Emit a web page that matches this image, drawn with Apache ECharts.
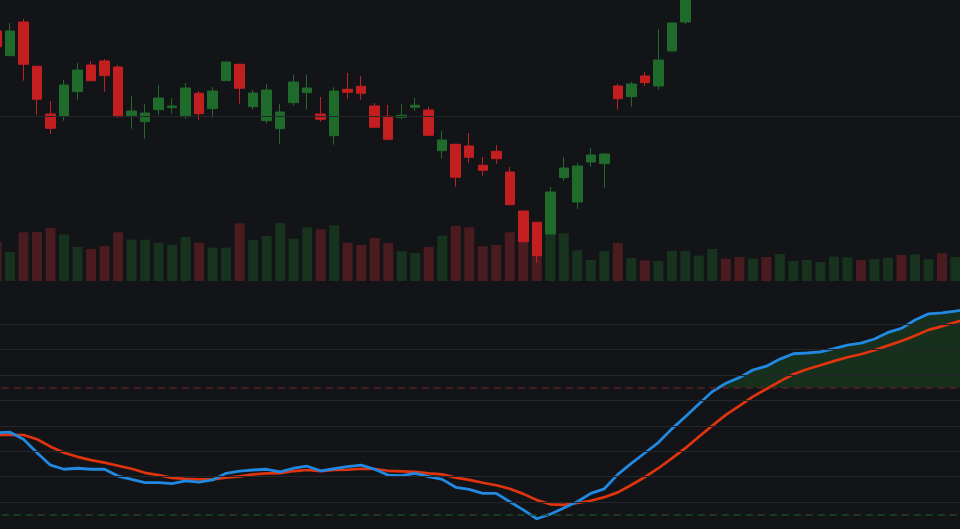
<!DOCTYPE html>
<html>
<head>
<meta charset="utf-8">
<title>K-line with oscillator</title>
<script src="https://cdn.jsdelivr.net/npm/echarts@6/dist/echarts.min.js"></script>
<style>
html, body { margin: 0; padding: 0; background: #131418; }
#main { width: 960px; height: 529px; }
</style>
</head>
<body>
<div id="main"></div>
<script>
// trading days shown on the category axis
const dates = [];
(function () {
    let d = new Date(2023, 2, 1);
    while (dates.length < 73) {
        const wd = d.getDay();
        if (wd !== 0 && wd !== 6) {
            dates.push(d.getFullYear() + '-' + (d.getMonth() + 1) + '-' + d.getDate());
        }
        d.setDate(d.getDate() + 1);
    }
})();

const opens = [121.25, 115.08, 123.5, 112.43, 100.5, 100.0, 106.08, 112.75, 113.75, 112.25,
    100.08, 98.58, 101.58, 102.08, 99.83, 105.68, 101.83, 108.83, 112.93, 102.33,
    98.83, 96.83, 103.33, 105.83, 100.5, 95.08, 106.68, 107.43, 102.5, 99.93,
    99.68, 102.18, 101.5, 91.33, 92.93, 92.5, 87.68, 91.18, 86.0, 76.25,
    73.43, 70.5, 84.58, 78.5, 88.5, 88.08, 107.5, 104.83, 110.0, 107.5,
    116.25, 123.5, 131.0, 137.5, 142.8, 140.6, 138.2, 143.5, 141.2, 146.0,
    149.4, 152.1, 155.0, 157.3, 160.1, 158.2, 161.7, 164.3, 162.0, 165.6,
    168.2, 166.1, 169.4];
const closes = [117.33, 121.25, 112.93, 104.18, 96.93, 107.75, 111.5, 108.83, 110.08, 99.83,
    101.25, 100.75, 104.5, 102.5, 107.0, 100.58, 106.25, 113.5, 106.93, 105.75,
    106.5, 101.0, 108.5, 107.0, 99.18, 106.25, 105.93, 105.68, 97.18, 94.18,
    100.18, 102.68, 95.18, 94.0, 84.68, 89.68, 86.43, 89.33, 77.83, 68.58,
    65.07, 81.0, 87.0, 87.5, 90.25, 90.5, 104.33, 108.0, 108.33, 114.0,
    123.25, 134.0, 137.5, 142.8, 140.6, 138.2, 143.5, 141.2, 146.0, 149.4,
    152.1, 155.0, 157.3, 160.1, 158.2, 161.7, 164.3, 162.0, 165.6, 168.2,
    166.1, 169.4, 171.8];
const lows = [116.5, 115.08, 108.83, 100.25, 95.5, 98.83, 104.08, 108.83, 106.08, 99.58,
    96.83, 94.33, 100.25, 100.58, 99.33, 99.08, 99.58, 108.83, 103.08, 101.58,
    98.08, 93.08, 102.58, 101.58, 98.58, 92.83, 104.33, 104.08, 97.18, 93.93,
    99.18, 101.25, 95.18, 89.33, 82.33, 88.33, 85.08, 88.08, 77.83, 68.43,
    63.33, 70.5, 83.83, 76.75, 87.33, 82.08, 101.58, 102.33, 107.5, 106.58,
    116.25, 123.0, 128.9, 136.0, 139.4, 136.9, 137.7, 139.8, 140.5, 145.2,
    148.3, 151.0, 153.8, 156.4, 156.9, 157.6, 160.5, 160.9, 161.3, 164.7,
    164.8, 165.5, 168.6];
const highs = [122.0, 123.25, 124.25, 112.43, 103.75, 109.0, 113.25, 113.75, 114.25, 112.75,
    105.0, 103.0, 107.75, 104.5, 108.25, 106.25, 107.25, 113.5, 112.93, 106.5,
    108.0, 103.0, 110.25, 110.25, 104.75, 107.18, 110.75, 110.0, 103.25, 102.75,
    103.0, 104.5, 102.25, 96.25, 92.93, 95.75, 89.75, 92.75, 87.25, 76.25,
    73.43, 82.25, 89.75, 88.25, 92.0, 90.75, 108.0, 108.5, 111.0, 121.75,
    123.25, 135.25, 138.6, 144.1, 144.6, 141.8, 144.9, 145.0, 147.3, 150.6,
    153.5, 156.2, 158.4, 161.5, 161.0, 162.8, 165.4, 165.1, 166.9, 169.3,
    169.0, 170.6, 172.9];
const volumes = [780000, 580000, 974000, 980000, 1060000, 934000, 680000, 640000, 700000, 974000,
    826000, 826000, 766000, 726000, 880000, 766000, 666000, 666000, 1154000, 820000,
    900000, 1160000, 846000, 1074000, 1034000, 1114000, 766000, 720000, 860000, 760000,
    594000, 560000, 680000, 906000, 1100000, 1074000, 694000, 720000, 974000, 900000,
    860000, 940000, 954000, 614000, 420000, 600000, 760000, 460000, 414000, 400000,
    600000, 600000, 506000, 640000, 446000, 480000, 446000, 480000, 540000, 400000,
    420000, 380000, 486000, 474000, 420000, 440000, 466000, 520000, 534000, 434000,
    554000, 480000, 500000];

// oscillator: fast (blue) and slow (red) lines
const kLine = [57.3, 57.5, 54.7, 49.4, 44.5, 42.9, 43.3, 42.9, 42.9, 40.2,
    38.9, 37.6, 37.6, 37.2, 38.3, 37.8, 38.7, 41.3, 42.2, 42.6,
    42.9, 41.9, 43.3, 44.1, 42.3, 43.1, 43.9, 44.5, 42.9, 40.6,
    40.4, 41.3, 40.0, 38.9, 35.8, 35.0, 33.4, 33.4, 30.1, 26.9,
    23.4, 25.2, 27.6, 30.1, 33.4, 35.2, 40.9, 45.2, 49.3, 53.4,
    58.8, 63.6, 68.6, 73.5, 76.8, 79.0, 82.0, 83.5, 86.3, 88.4,
    88.7, 89.1, 90.4, 91.8, 92.6, 94.2, 96.8, 98.4, 101.7, 104.1,
    104.5, 105.2, 106.0];
const dLine = [56.4, 56.5, 56.4, 54.7, 51.8, 49.4, 47.8, 46.5, 45.5, 44.3,
    43.1, 41.5, 40.6, 39.5, 39.1, 38.9, 38.9, 39.6, 40.1, 40.9,
    41.3, 41.4, 42.2, 42.6, 42.2, 42.6, 42.7, 43.1, 43.0, 42.3,
    42.1, 41.9, 41.3, 40.9, 39.6, 38.7, 37.6, 36.6, 35.2, 33.2,
    30.8, 29.1, 28.9, 29.6, 30.5, 31.9, 33.8, 36.7, 39.8, 43.3,
    47.2, 51.2, 55.7, 60.1, 64.3, 67.9, 71.5, 74.5, 77.5, 80.3,
    82.3, 83.9, 85.5, 87.0, 88.2, 89.8, 91.6, 93.4, 95.5, 97.8,
    99.2, 100.8, 102.3];

const priceGridLevels = [100];
const oscGridLevels = [30, 40, 50, 60, 70, 80, 90, 100];
const overBought = 75;
const overSold = 25;

const UP = '#1f6b2b';
const DOWN = '#c41f20';
const UP_VOL = '#17331e';
const DOWN_VOL = '#4a1b1f';
const GRID_LINE = '#25262b';

const candleData = opens.map((o, i) => [o, closes[i], lows[i], highs[i]]);
const volumeData = volumes.map((v, i) => ({
    value: v,
    itemStyle: { color: closes[i] >= opens[i] ? UP_VOL : DOWN_VOL }
}));

const hLine = (v, color, type) => ({ yAxis: v, lineStyle: { color: color, type: type, width: 1 } });

let chartOption = {
    backgroundColor: '#131418',
    animation: false,
    grid: [
        // the view is scrolled: first and last candles are cut by the canvas edge
        { left: -10.25, width: 986, top: 0, height: 281, outerBoundsMode: 'none', containLabel: false },
        { left: -10.25, width: 986, top: 298.91, height: 228.48, outerBoundsMode: 'none', containLabel: false }
    ],
    xAxis: [
        { type: 'category', gridIndex: 0, data: dates, show: false, boundaryGap: true },
        { type: 'category', gridIndex: 1, data: dates, show: false, boundaryGap: true }
    ],
    yAxis: [
        { type: 'value', gridIndex: 0, min: 58.75, max: 129, show: false },
        { type: 'value', gridIndex: 0, min: 0, max: 5620000, show: false },
        { type: 'value', gridIndex: 1, min: 20, max: 110, show: false }
    ],
    series: [
        {
            name: 'Volume',
            type: 'bar',
            xAxisIndex: 0,
            yAxisIndex: 1,
            barWidth: 10,
            data: volumeData
        },
        {
            name: 'Price',
            type: 'candlestick',
            xAxisIndex: 0,
            yAxisIndex: 0,
            barWidth: 10,
            itemStyle: {
                color: UP,
                color0: DOWN,
                borderColor: UP,
                borderColor0: DOWN,
                borderWidth: 1
            },
            data: candleData,
            markLine: {
                silent: true,
                symbol: ['none', 'none'],
                label: { show: false },
                data: priceGridLevels.map(v => hLine(v, GRID_LINE, 'solid'))
            }
        },
        {
            // base of the overbought fill, sits on the 75 level
            name: 'fillBase',
            type: 'line',
            xAxisIndex: 1,
            yAxisIndex: 2,
            stack: 'ob',
            symbol: 'none',
            lineStyle: { opacity: 0 },
            data: kLine.map(() => overBought),
            markLine: {
                silent: true,
                symbol: ['none', 'none'],
                label: { show: false },
                data: oscGridLevels.map(v => hLine(v, GRID_LINE, 'solid')).concat([
                    { yAxis: overBought, lineStyle: { color: '#5a1f23', type: [7, 5], width: 1.5 } },
                    { yAxis: overSold, lineStyle: { color: '#1d4a25', type: [7, 5], width: 1.5 } }
                ])
            }
        },
        {
            name: 'fill',
            type: 'line',
            xAxisIndex: 1,
            yAxisIndex: 2,
            stack: 'ob',
            symbol: 'none',
            lineStyle: { opacity: 0 },
            areaStyle: { color: 'rgba(32,90,38,0.55)' },
            data: kLine.map(k => Math.max(k - overBought, 0))
        },
        {
            name: 'D',
            type: 'line',
            xAxisIndex: 1,
            yAxisIndex: 2,
            symbol: 'none',
            lineStyle: { color: '#e0340f', width: 2.7 },
            data: dLine
        },
        {
            name: 'K',
            type: 'line',
            xAxisIndex: 1,
            yAxisIndex: 2,
            symbol: 'none',
            lineStyle: { color: '#2189e2', width: 2.8 },
            data: kLine
        }
    ]
};

const mychart = echarts.init(document.getElementById('main'));
mychart.setOption(chartOption);
window.onresize = () => {
    mychart.resize();
};
</script>
</body>
</html>
